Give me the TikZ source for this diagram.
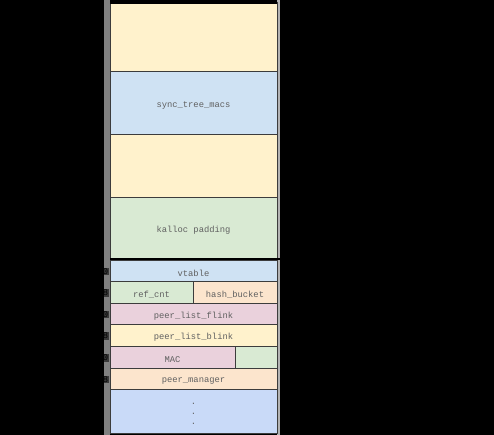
\documentclass[tikz,border=0pt]{standalone}
\usepackage{fontspec}
\setmonofont{Liberation Mono}
\definecolor{cyel}{HTML}{FFF2CC}
\definecolor{cblu}{HTML}{CFE2F3}
\definecolor{cblu2}{HTML}{C9DAF8}
\definecolor{cgrn}{HTML}{D9EAD3}
\definecolor{corg}{HTML}{FCE5CD}
\definecolor{cpnk}{HTML}{EAD1DC}
\definecolor{ctxt}{HTML}{606060}
\definecolor{cline}{HTML}{3C3C3C}
\begin{document}
\begin{tikzpicture}[x=0.75pt,y=-0.75pt,
  cell/.style={draw=cline,line width=0.75pt,inner sep=0pt,outer sep=0pt,anchor=north west,
    text=ctxt,font=\ttfamily\fontsize{6.6}{8}\selectfont,align=center},
  lbl/.style={text=ctxt,font=\ttfamily\fontsize{6.6}{8}\selectfont,inner sep=0pt,yshift=-1.2pt},
  bar/.style={draw=black,line width=2.2pt},
  offs/.style={anchor=east,inner sep=0.5pt,fill=black,fill opacity=0.55,text opacity=1,text=black,font=\ttfamily\fontsize{6.6}{8}\selectfont}]
\useasboundingbox[fill=black] (0,0) rectangle (494,435);
% gray backing column
\fill[black!50] (104,0) rectangle (110,435);
\fill[black!30] (277,0) rectangle (280,435);
% upper block
\node[cell,fill=cyel,minimum width=125.25pt,minimum height=51.75pt] (b1) at (110,3) {};
\node[cell,fill=cblu,minimum width=125.25pt,minimum height=47.25pt] (b2) at (110,72) {};
\node[cell,fill=cyel,minimum width=125.25pt,minimum height=47.25pt] (b3) at (110,135) {};
\node[cell,fill=cgrn,minimum width=125.25pt,minimum height=45.75pt] (b4) at (110,198) {};
% lower block
\node[cell,fill=cblu,minimum width=125.25pt,minimum height=15.75pt] (vt) at (110,261) {};
\node[cell,fill=cgrn,minimum width=62.25pt,minimum height=16.5pt] (rc) at (110,282) {};
\node[cell,fill=corg,minimum width=63pt,minimum height=16.5pt] (hb) at (193,282) {};
\node[cell,fill=cpnk,minimum width=125.25pt,minimum height=15.75pt] (fl) at (110,304) {};
\node[cell,fill=cyel,minimum width=125.25pt,minimum height=16.5pt] (bl) at (110,325) {};
\node[cell,fill=cpnk,minimum width=93.75pt,minimum height=16.5pt] (mac) at (110,347) {};
\node[cell,fill=cgrn,minimum width=31.5pt,minimum height=16.5pt] (macp) at (235,347) {};
\node[cell,fill=corg,minimum width=125.25pt,minimum height=15.75pt] (pm) at (110,369) {};
\node[cell,fill=cblu2,minimum width=125.25pt,minimum height=33pt] (rest) at (110,390) {};
% labels
\node[lbl] (t2) at (b2.center) {sync\_tree\_macs};
\node[lbl] (t4) at (b4.center) {kalloc padding};
\node[lbl] (tvt) at (vt.center) {vtable};
\node[lbl] (trc) at (rc.center) {ref\_cnt};
\node[lbl] (thb) at (hb.center) {hash\_bucket};
\node[lbl] (tfl) at (fl.center) {peer\_list\_flink};
\node[lbl] (tbl) at (bl.center) {peer\_list\_blink};
\node[lbl] (tmac) at (mac.center) {MAC};
\node[lbl] (tpm) at (pm.center) {peer\_manager};
\node[lbl,align=center,font=\ttfamily\fontsize{6.6}{7.5}\selectfont] (dots) at (rest.center) {.\\.\\.};
% thick separators
\draw[bar] (b1.north west) -- (b1.north east);
\draw[bar] (b4.south west) -- ([xshift=2pt]b4.south east);
% offsets
\node[offs] (o0) at ([xshift=-0.75pt]vt.west) {0x00};
\node[offs] (o8) at ([xshift=-0.75pt]rc.west) {0x08};
\node[offs] (o10) at ([xshift=-0.75pt]fl.west) {0x10};
\node[offs] (o18) at ([xshift=-0.75pt]bl.west) {0x18};
\node[offs] (o20) at ([xshift=-0.75pt]mac.west) {0x20};
\node[offs] (o28) at ([xshift=-0.75pt]pm.west) {0x28};
\end{tikzpicture}
\end{document}
